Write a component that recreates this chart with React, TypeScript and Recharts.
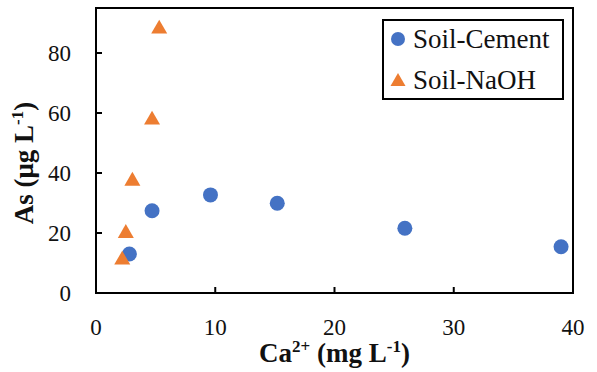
import React from "react";
import {
  ScatterChart,
  Scatter,
  XAxis,
  YAxis,
  ReferenceArea,
} from "recharts";

const cementCa = [2.8, 4.7, 9.6, 15.2, 25.9, 39.0];
const cementAs = [13.0, 27.4, 32.7, 29.9, 21.6, 15.4];
const naohCa = [2.2, 2.5, 3.05, 4.7, 5.3];
const naohAs = [11.0, 19.9, 37.3, 57.7, 88.0];
const seriesNames = ["Soil-Cement", "Soil-NaOH"];
const xTicks = [0, 10, 20, 30, 40];
const yTicks = [0, 20, 40, 60, 80];

const cementData = cementCa.map((x, i) => ({ x, y: cementAs[i] }));
const naohData = naohCa.map((x, i) => ({ x, y: naohAs[i] }));

const BLUE = "#4472C4";
const ORANGE = "#ED7D31";
const FONT = "Liberation Serif";

const Dot = (props: any) => (
  <circle cx={props.cx} cy={props.cy} r={7.5} fill={BLUE} />
);

const Tri = (props: any) => {
  const { cx, cy } = props;
  const s = 16;
  const h = s * 0.866;
  const pts = `${cx},${cy - (2 * h) / 3} ${cx - s / 2},${cy + h / 3} ${cx + s / 2},${cy + h / 3}`;
  return <polygon points={pts} fill={ORANGE} />;
};

function XTick(props: any) {
  return (
    <text
      x={props.x}
      y={props.y + 15}
      textAnchor="middle"
      fontSize={23}
      fill="#111"
      fontFamily={FONT}
    >
      {props.payload.value}
    </text>
  );
}

function YTick(props: any) {
  return (
    <text
      x={props.x}
      y={props.y + 8}
      textAnchor="end"
      fontSize={23}
      fill="#111"
      fontFamily={FONT}
    >
      {props.payload.value}
    </text>
  );
}

const LegendBox = () => (
  <svg
    width={182}
    height={81}
    style={{ position: "absolute", left: 382, top: 19, display: "block" }}
  >
    <rect x={1} y={1} width={180} height={79} fill="#fff" stroke="#000" strokeWidth={2} />
    {seriesNames.map((name, i) => {
      const cy = 20 + i * 41;
      return (
        <g key={name}>
          {i === 0 ? (
            <circle cx={16} cy={cy} r={7} fill={BLUE} />
          ) : (
            <polygon
              points={`16,${cy - 7} 8.5,${cy + 6} 23.5,${cy + 6}`}
              fill={ORANGE}
            />
          )}
          <text x={31} y={cy + 9} fontSize={27} fill="#111" fontFamily={FONT}>
            {name}
          </text>
        </g>
      );
    })}
  </svg>
);

const XTitle = () => (
  <text
    x={334.5}
    y={362}
    textAnchor="middle"
    fontWeight="bold"
    fontSize={27}
    fill="#111"
    fontFamily={FONT}
  >
    Ca
    <tspan dy={-10} fontSize={17}>2+</tspan>
    <tspan dy={10}> (mg L</tspan>
    <tspan dy={-10} fontSize={17}>-1</tspan>
    <tspan dy={10}>)</tspan>
  </text>
);

const YTitle = () => (
  <text
    x={33}
    y={163}
    transform="rotate(-90 33 163)"
    textAnchor="middle"
    fontWeight="bold"
    fontSize={27}
    fill="#111"
    fontFamily={FONT}
  >
    As (μg L
    <tspan dy={-10} fontSize={17}>-1</tspan>
    <tspan dy={10}>)</tspan>
  </text>
);

export default function App() {
  return (
    <div
      style={{
        position: "absolute",
        left: 0,
        top: 0,
        width: 597,
        height: 372,
        background: "#fff",
        fontFamily: FONT,
      }}
    >
      <ScatterChart
        width={597}
        height={372}
        margin={{ top: 8, right: 24, bottom: 0, left: 0 }}
      >
        <XAxis
          type="number"
          dataKey="x"
          domain={[0, 40]}
          ticks={xTicks}
          height={79}
          stroke="#000"
          axisLine={{ stroke: "#000", strokeWidth: 2 }}
          tickLine={{ stroke: "#000", strokeWidth: 2 }}
          tickSize={-6}
          tickMargin={33}
          tick={XTick}
          label={<XTitle />}
        />
        <YAxis
          type="number"
          dataKey="y"
          domain={[0, 95]}
          ticks={yTicks}
          width={96}
          stroke="#000"
          axisLine={{ stroke: "#000", strokeWidth: 2 }}
          tickLine={{ stroke: "#000", strokeWidth: 2 }}
          tickSize={-6}
          tickMargin={31}
          tick={YTick}
          label={<YTitle />}
        />
        <ReferenceArea
          x1={0}
          x2={40}
          y1={0}
          y2={95}
          fill="none"
          fillOpacity={0}
          stroke="#000"
          strokeWidth={2}
          strokeOpacity={1}
        />
        <Scatter
          name={seriesNames[0]}
          data={cementData}
          fill={BLUE}
          shape={<Dot />}
          isAnimationActive={false}
        />
        <Scatter
          name={seriesNames[1]}
          data={naohData}
          fill={ORANGE}
          shape={<Tri />}
          isAnimationActive={false}
        />
      </ScatterChart>
      <LegendBox />
    </div>
  );
}
